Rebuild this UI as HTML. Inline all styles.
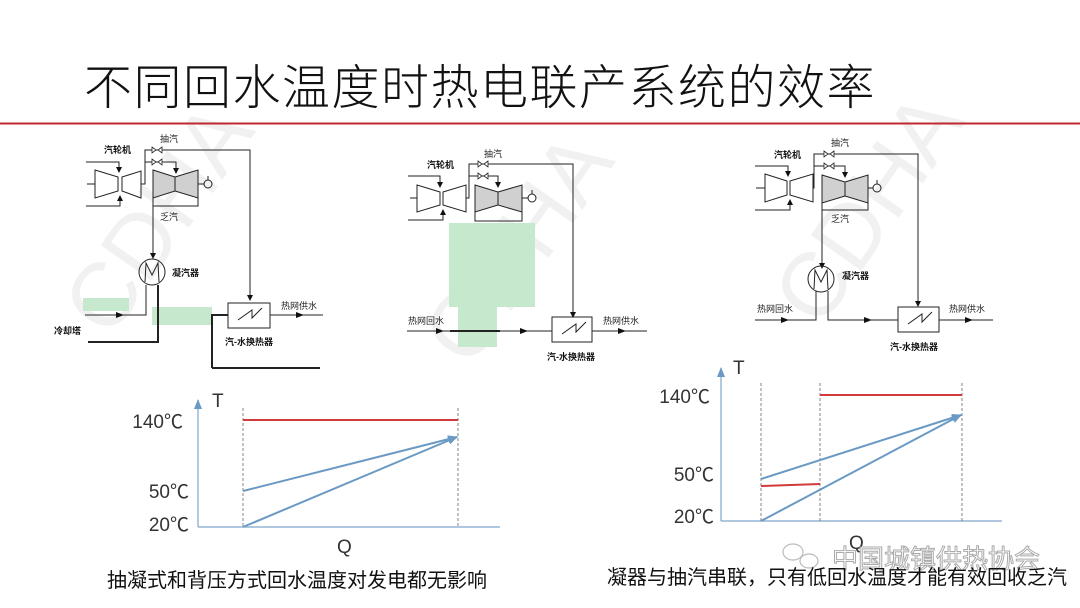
<!DOCTYPE html>
<html><head><meta charset="utf-8"><style>
html,body{margin:0;padding:0;background:#fff;}
svg{display:block;}
text{font-family:"Liberation Sans","Noto Sans CJK SC",sans-serif;}
.l{font-size:9px;fill:#222;}
.lb{font-size:9px;fill:#111;font-weight:bold;}
.ax{font-size:19px;fill:#333;}
.cap{font-size:20px;fill:#111;}
</style></head><body>
<svg width="1080" height="608" viewBox="0 0 1080 608" xmlns="http://www.w3.org/2000/svg">
<defs>
<marker id="a" markerWidth="6" markerHeight="6" refX="5" refY="3" orient="auto" markerUnits="userSpaceOnUse"><path d="M0,0 L6,3 L0,6z" fill="#111"/></marker>
<marker id="b" markerWidth="10" markerHeight="8" refX="9" refY="4" orient="auto" markerUnits="userSpaceOnUse"><path d="M0,0 L10,4 L0,8z" fill="#6a9ac4"/></marker>
<marker id="m" markerWidth="8" markerHeight="6" refX="4" refY="3" orient="auto" markerUnits="userSpaceOnUse"><path d="M0,0 L8,3 L0,6z" fill="#111"/></marker>
</defs>
<!-- watermarks -->
<g fill="#f1f1f1" font-size="90" font-family="Liberation Sans,sans-serif">
<text x="110" y="340" transform="rotate(-55 110 340)">CDHA</text>
<text x="470" y="370" transform="rotate(-55 470 370)">CDHA</text>
<text x="820" y="330" transform="rotate(-55 820 330)">CDHA</text>
</g>
<!-- title -->
<text x="84" y="104" font-size="48" font-weight="300" fill="#111" letter-spacing="1.5" style='font-family:"Noto Sans CJK SC",sans-serif'>不同回水温度时热电联产系统的效率</text>
<line x1="0" y1="123.5" x2="1080" y2="123.5" stroke="#c0282c" stroke-width="2"/>

<!-- green highlights -->
<g fill="#c6e8cc">
<rect x="83" y="298" width="46" height="13"/>
<rect x="152" y="307" width="60" height="18"/>
<rect x="449" y="223" width="86" height="84"/>
<rect x="458" y="306" width="39" height="41"/>
</g>

<!-- ===== Diagram 1 ===== -->
<g stroke="#222" stroke-width="1" fill="none">
<polygon points="95,170 118,177 118,191 95,198" />
<polygon points="122,177 141,171 141,198 122,191" />
<line x1="87" y1="184" x2="95" y2="184"/>
<polyline points="86,162 119,162 119,172" marker-end="url(#a)"/>
<polyline points="86,206 120,206 120,196" marker-end="url(#a)"/>
<polygon points="153,170 175,177 175,191 153,198" fill="#d0d0d0"/>
<polygon points="175,177 198,170 198,198 175,191" fill="#d0d0d0"/>
<line x1="175" y1="177" x2="175" y2="191"/>
<circle cx="208" cy="184" r="4"/>
<line x1="198" y1="184" x2="204" y2="184"/>
<line x1="208" y1="176" x2="208" y2="180"/>
<polyline points="141,184 145,184 145,150 250,150 250,300" marker-end="url(#a)"/>
<polyline points="145,162 176,162 176,173" marker-end="url(#a)"/>
<polyline points="153,198 153,206 198,206 198,198"/>
<line x1="153" y1="198" x2="153" y2="258" marker-end="url(#a)"/>
<circle cx="152" cy="272" r="13"/>
<polyline points="145,282 146,263 152,275 158,263 159,282"/>
<polyline points="146,285 146,315 85,315"/>
<line x1="85" y1="315" x2="120" y2="315" marker-end="url(#m)"/>
<polyline points="158,285 158,342 88,342" stroke-width="2"/>
<rect x="228" y="303" width="42" height="25"/>
<polyline points="238,320 252,310 252,318 262,308"/>
<polyline points="212,368 212,315 228,315" stroke-width="2"/>
<line x1="212" y1="368" x2="320" y2="368" stroke-width="2"/>
<line x1="270" y1="315" x2="323" y2="315"/>
<line x1="285" y1="315" x2="300" y2="315" marker-end="url(#m)"/>
</g>
<g stroke="#222" fill="#fff" stroke-width="0.8">
<path d="M152,147 l4,3 l-4,3z M162,147 l-4,3 l4,3z"/>
<path d="M152,159 l4,3 l-4,3z M162,159 l-4,3 l4,3z"/>
</g>
<text class="lb" x="104" y="153">汽轮机</text>
<text class="l" x="160" y="142">抽汽</text>
<text class="l" x="160" y="220">乏汽</text>
<text class="lb" x="172" y="276">凝汽器</text>
<text class="lb" x="54" y="334">冷却塔</text>
<text class="l" x="281" y="309">热网供水</text>
<text class="lb" x="225" y="345">汽-水换热器</text>

<!-- ===== Diagram 2 ===== -->
<g stroke="#222" stroke-width="1" fill="none">
<polygon points="417,185 440,192 440,205 417,212"/>
<polygon points="443,192 466,185 466,212 443,205"/>
<line x1="410" y1="198" x2="417" y2="198"/>
<polyline points="408,176 440,176 440,187" marker-end="url(#a)"/>
<polyline points="408,220 443,220 443,210" marker-end="url(#a)"/>
<polygon points="475,185 498,192 498,205 475,212" fill="#d0d0d0"/>
<polygon points="498,192 522,185 522,212 498,205" fill="#d0d0d0"/>
<line x1="498" y1="192" x2="498" y2="205"/>
<circle cx="532" cy="198" r="4"/>
<line x1="522" y1="198" x2="528" y2="198"/>
<line x1="532" y1="190" x2="532" y2="194"/>
<polyline points="466,198 469,198 469,164 573,164 573,317" marker-end="url(#a)"/>
<polyline points="469,176 498,176 498,187" marker-end="url(#a)"/>
<polyline points="475,212 475,221 522,221 522,212"/>
<line x1="407" y1="331" x2="552" y2="331"/>
<line x1="450" y1="331" x2="500" y2="331" stroke-width="2"/>
<line x1="425" y1="331" x2="440" y2="331" marker-end="url(#m)"/>
<line x1="510" y1="331" x2="524" y2="331" marker-end="url(#m)"/>
<rect x="552" y="317" width="40" height="25"/>
<polyline points="562,334 576,324 576,332 586,322"/>
<line x1="592" y1="331" x2="647" y2="331"/>
<line x1="608" y1="331" x2="622" y2="331" marker-end="url(#m)"/>
</g>
<g stroke="#222" fill="#fff" stroke-width="0.8">
<path d="M478,161 l4,3 l-4,3z M488,161 l-4,3 l4,3z"/>
<path d="M478,173 l4,3 l-4,3z M488,173 l-4,3 l4,3z"/>
</g>
<text class="lb" x="427" y="168">汽轮机</text>
<text class="l" x="484" y="157">抽汽</text>
<text class="l" x="408" y="324">热网回水</text>
<text class="l" x="603" y="324">热网供水</text>
<text class="lb" x="547" y="360">汽-水换热器</text>

<!-- ===== Diagram 3 ===== -->
<g stroke="#222" stroke-width="1" fill="none">
<polygon points="765,174 787,181 787,195 765,202"/>
<polygon points="790,181 813,174 813,202 790,195"/>
<line x1="756" y1="188" x2="765" y2="188"/>
<polyline points="755,166 788,166 788,176" marker-end="url(#a)"/>
<polyline points="755,210 790,210 790,200" marker-end="url(#a)"/>
<polygon points="822,175 845,182 845,196 822,203" fill="#d0d0d0"/>
<polygon points="845,182 868,175 868,203 845,196" fill="#d0d0d0"/>
<line x1="845" y1="182" x2="845" y2="196"/>
<circle cx="877" cy="188" r="4"/>
<line x1="868" y1="188" x2="873" y2="188"/>
<line x1="877" y1="180" x2="877" y2="184"/>
<polyline points="813,188 814,188 814,154 918,154 918,306" marker-end="url(#a)"/>
<polyline points="814,166 845,166 845,177" marker-end="url(#a)"/>
<polyline points="822,203 822,210 868,210 868,203"/>
<line x1="822" y1="210" x2="822" y2="268" marker-end="url(#a)"/>
<circle cx="821" cy="279" r="13"/>
<polyline points="814,289 815,270 821,282 827,270 828,289"/>
<polyline points="755,320 816,320 816,291"/>
<line x1="770" y1="320" x2="785" y2="320" marker-end="url(#m)"/>
<polyline points="828,291 828,320 898,320"/>
<line x1="855" y1="320" x2="868" y2="320" marker-end="url(#m)"/>
<rect x="898" y="307" width="41" height="25"/>
<polyline points="908,324 922,314 922,322 932,312"/>
<line x1="939" y1="320" x2="993" y2="320"/>
<line x1="955" y1="320" x2="969" y2="320" marker-end="url(#m)"/>
</g>
<g stroke="#222" fill="#fff" stroke-width="0.8">
<path d="M824,151 l4,3 l-4,3z M834,151 l-4,3 l4,3z"/>
<path d="M824,163 l4,3 l-4,3z M834,163 l-4,3 l4,3z"/>
</g>
<text class="lb" x="774" y="158">汽轮机</text>
<text class="l" x="831" y="146">抽汽</text>
<text class="l" x="831" y="222">乏汽</text>
<text class="lb" x="842" y="279">凝汽器</text>
<text class="l" x="757" y="312">热网回水</text>
<text class="l" x="949" y="312">热网供水</text>
<text class="lb" x="890" y="350">汽-水换热器</text>

<!-- ===== Chart 1 ===== -->
<g fill="none">
<line x1="198" y1="527" x2="198" y2="400" stroke="#7fa8cc" stroke-width="1.2" marker-end="url(#b)"/>
<line x1="198" y1="527" x2="500" y2="527" stroke="#7fa8cc" stroke-width="1.2"/>
<line x1="243" y1="408" x2="243" y2="527" stroke="#666" stroke-dasharray="3,2" stroke-width="0.8"/>
<line x1="458" y1="408" x2="458" y2="527" stroke="#666" stroke-dasharray="3,2" stroke-width="0.8"/>
<line x1="243" y1="420" x2="458" y2="420" stroke="#d13b3b" stroke-width="2"/>
<line x1="243" y1="491" x2="457" y2="437" stroke="#6a9ac4" stroke-width="2" marker-end="url(#b)"/>
<line x1="243" y1="527" x2="457" y2="437" stroke="#6a9ac4" stroke-width="2" marker-end="url(#b)"/>
</g>
<text class="ax" x="212" y="407">T</text>
<text class="ax" x="183" y="428" text-anchor="end">140℃</text>
<text class="ax" x="189" y="498" text-anchor="end">50℃</text>
<text class="ax" x="189" y="531" text-anchor="end">20℃</text>
<text class="ax" x="337" y="553">Q</text>
<text class="cap" x="107" y="587">抽凝式和背压方式回水温度对发电都无影响</text>

<!-- ===== Chart 2 ===== -->
<g fill="none">
<line x1="721" y1="521" x2="721" y2="368" stroke="#7fa8cc" stroke-width="1.2" marker-end="url(#b)"/>
<line x1="721" y1="521" x2="1002" y2="521" stroke="#7fa8cc" stroke-width="1.2"/>
<line x1="761" y1="383" x2="761" y2="521" stroke="#666" stroke-dasharray="3,2" stroke-width="0.8"/>
<line x1="820" y1="383" x2="820" y2="521" stroke="#666" stroke-dasharray="3,2" stroke-width="0.8"/>
<line x1="962" y1="383" x2="962" y2="521" stroke="#666" stroke-dasharray="3,2" stroke-width="0.8"/>
<line x1="820" y1="395" x2="962" y2="395" stroke="#d13b3b" stroke-width="2"/>
<line x1="761" y1="486" x2="820" y2="484" stroke="#d13b3b" stroke-width="2"/>
<line x1="761" y1="479" x2="961" y2="415" stroke="#6a9ac4" stroke-width="2" marker-end="url(#b)"/>
<line x1="761" y1="521" x2="961" y2="415" stroke="#6a9ac4" stroke-width="2" marker-end="url(#b)"/>
</g>
<text class="ax" x="733" y="374">T</text>
<text class="ax" x="710" y="403" text-anchor="end">140℃</text>
<text class="ax" x="714" y="481" text-anchor="end">50℃</text>
<text class="ax" x="714" y="523" text-anchor="end">20℃</text>
<text class="ax" x="849" y="549">Q</text>
<g fill="none" stroke="#bbb" stroke-width="1.2">
<ellipse cx="793" cy="552" rx="10" ry="8"/>
<ellipse cx="809" cy="561" rx="9" ry="7"/>
</g>
<text x="832" y="568" font-size="26" fill="#fff" stroke="#aaa" stroke-width="1" style='font-family:"Noto Sans CJK SC",sans-serif'>中国城镇供热协会</text>
<text class="cap" x="607" y="584" font-size="20.5">凝器与抽汽串联，只有低回水温度才能有效回收乏汽</text>
</svg>
</body></html>
